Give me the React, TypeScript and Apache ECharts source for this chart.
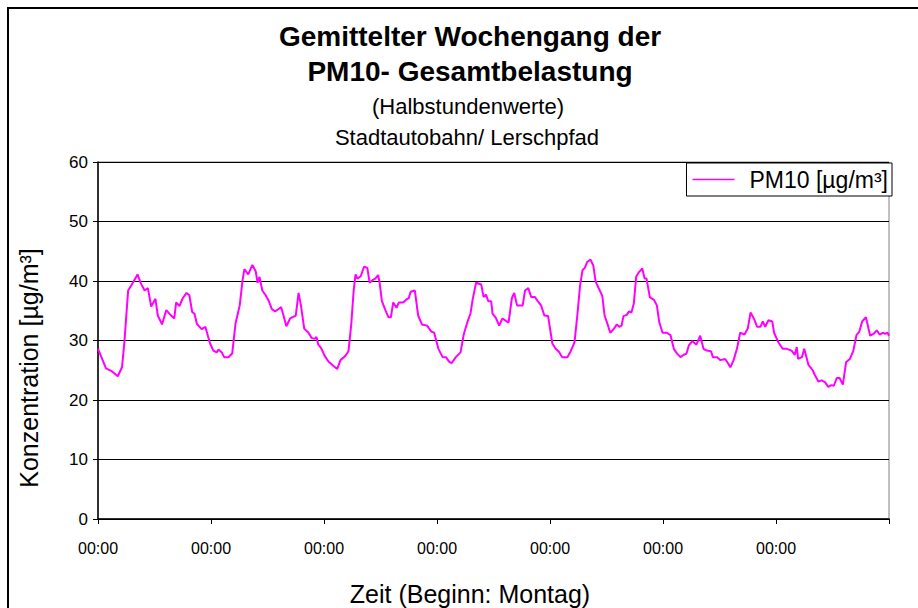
import React, { useEffect, useRef } from "react";
import * as echarts from "echarts";

const titleLines = ["Gemittelter Wochengang der", "PM10- Gesamtbelastung"];
const subtitleLines = ["(Halbstundenwerte)", "Stadtautobahn/ Lerschpfad"];
const seriesName = "PM10 [µg/m³]";
const yAxisName = "Konzentration [µg/m³]";
const xAxisName = "Zeit (Beginn: Montag)";
const xTickLabels = ["00:00", "00:00", "00:00", "00:00", "00:00", "00:00", "00:00", ""];

// hours since Monday 00:00
const hours = [
  0, 1.7, 3.0, 4.2, 5.1, 5.6, 6.4, 7.2, 8.4, 9.1, 9.9, 10.6, 11.3, 12.2, 12.7, 13.6, 14.5, 15.4, 16.2, 16.6, 17.3, 18.0, 18.8, 19.4, 20.0, 20.5, 21.0, 22.0, 22.8,
  23.8, 24.5, 25.2, 25.6, 26.3, 26.8, 27.7, 28.5, 29.2, 30.1, 30.7, 31.1, 31.9, 32.8, 33.5, 33.9, 34.3, 34.9, 35.6, 36.3, 36.9, 37.6, 38.2, 38.9, 39.4, 40.0, 40.8, 42.0, 42.6, 43.1, 43.8, 44.7, 45.4, 46.1, 46.4, 46.8,
  47.4, 48.1, 48.9, 49.9, 50.8, 51.5, 52.4, 53.2, 53.8, 54.3, 54.7, 55.1, 55.8, 56.5, 57.2, 57.7, 58.4, 58.9, 59.5, 59.8, 60.3, 61.0, 61.7, 62.2, 62.7, 63.4, 63.9, 64.8, 65.5, 66.0, 66.4, 67.3, 68.0, 68.8, 69.9, 70.8,
  71.4, 72.3, 73.2, 73.9, 74.6, 75.1, 76.0, 77.0, 77.7, 78.5, 79.1, 79.6, 80.3, 81.4, 81.9, 82.4, 82.9, 83.5, 83.8, 84.5, 85.2, 85.9, 87.2, 87.9, 88.4, 89.0, 90.2, 90.7, 91.4, 92.0, 92.8, 93.4, 94.1, 94.8, 95.6,
  96.5, 97.2, 97.9, 98.6, 99.7, 100.4, 101.2, 101.8, 102.4, 102.9, 103.4, 103.9, 104.6, 105.2, 105.7, 106.4, 107.1, 107.6, 108.2, 108.8, 109.5, 110.2, 110.7, 111.2, 111.6, 112.3, 112.8, 113.3, 113.8, 114.3, 114.9, 115.6, 116.1, 116.5, 117.2, 118.1, 118.7, 119.2, 119.9, 120.8,
  121.6, 122.3, 123.0, 123.7, 124.4, 125.0, 125.5, 126.2, 127.1, 127.9, 128.6, 129.3, 130.2, 130.6, 131.5, 132.2, 133.2, 133.7, 134.3, 135.0, 135.7, 136.4, 137.3, 138.0, 138.6, 139.3, 140.0, 140.7, 141.2, 141.7, 142.4, 143.2,
  143.6, 144.5, 145.4, 146.3, 147.3, 148.0, 148.4, 148.7, 149.5, 150.0, 150.9, 151.8, 152.3, 153.0, 153.7, 154.4, 155.1, 155.8, 156.3, 156.9, 157.5, 158.2, 158.9, 159.7, 160.4, 161.1, 161.7, 162.3, 163.1, 164.0, 164.7, 165.4, 166.0, 166.7, 167.2, 167.7, 168.0,
];

// PM10 concentration [µg/m³]
const pm10 = [
  28.6, 25.3, 24.8, 24.0, 25.5, 29.7, 38.4, 39.4, 41.1, 39.6, 38.4, 38.8, 35.7, 37.0, 34.2, 32.7, 35.1, 34.3, 33.7, 36.4, 35.8, 37.1, 38.0, 37.6, 34.8, 34.5, 32.8, 31.9, 32.3,
  29.5, 28.3, 28.0, 28.5, 28.0, 27.2, 27.2, 27.8, 32.8, 35.9, 40.1, 42.0, 41.1, 42.7, 41.6, 39.7, 40.7, 38.4, 37.6, 36.6, 35.3, 34.9, 35.2, 35.6, 34.2, 32.4, 33.7, 34.2, 38.0, 35.9, 32.0, 31.3, 30.4, 30.3, 30.6, 29.3,
  28.7, 27.5, 26.5, 25.8, 25.2, 26.7, 27.3, 28.2, 32.8, 38.4, 41.1, 40.4, 40.8, 42.4, 42.2, 39.7, 40.2, 40.4, 41.0, 39.8, 36.6, 35.2, 33.9, 33.9, 36.4, 35.5, 36.4, 36.4, 36.9, 37.1, 38.2, 38.4, 34.2, 32.7, 32.5, 31.5,
  31.3, 28.6, 27.2, 27.2, 26.4, 26.2, 27.2, 28.0, 31.1, 33.2, 34.5, 37.0, 39.7, 39.4, 37.3, 37.7, 36.6, 36.6, 34.5, 33.8, 32.5, 33.7, 33.0, 37.1, 38.0, 35.9, 35.9, 38.4, 38.8, 37.3, 37.3, 36.6, 35.9, 34.2, 34.1,
  29.5, 28.6, 28.1, 27.2, 27.2, 28.2, 29.7, 34.2, 39.3, 41.8, 42.2, 43.2, 43.6, 42.6, 39.9, 38.7, 37.5, 34.2, 32.8, 31.3, 31.9, 32.7, 32.3, 32.5, 34.1, 34.3, 34.9, 34.7, 36.2, 40.7, 41.5, 42.1, 40.4, 40.4, 37.3, 36.8, 35.9, 33.1, 31.3, 31.3,
  30.9, 28.6, 27.8, 27.2, 27.6, 27.8, 29.2, 29.9, 29.3, 30.8, 28.6, 28.3, 28.2, 27.2, 27.2, 26.7, 26.9, 26.3, 25.5, 26.7, 28.6, 31.3, 31.0, 32.0, 34.7, 33.7, 32.3, 32.3, 33.2, 32.3, 33.4, 33.2,
  31.3, 29.7, 28.6, 28.6, 28.3, 27.6, 28.9, 26.9, 27.2, 28.6, 25.9, 25.0, 24.1, 23.1, 23.3, 23.0, 22.2, 22.5, 22.4, 23.7, 23.7, 22.6, 26.4, 26.9, 28.2, 30.9, 31.5, 33.2, 33.9, 30.8, 31.1, 31.7, 31.0, 31.3, 31.1, 31.3, 30.8,
];

const FONT = "'Liberation Sans', Arial, sans-serif";

export default function App() {
  const ref = useRef<HTMLDivElement>(null);
  useEffect(() => {
    if (!ref.current) return;
    const chart = echarts.init(ref.current, undefined, { renderer: "svg" });
    const data = hours.map((h, i) => [h, pm10[i]]);
    const txt = (text: string, x: number, y: number, size: number, bold: boolean, rotation = 0) => ({
      type: "text",
      x,
      y,
      rotation,
      silent: true,
      style: {
        text,
        fill: "#000",
        font: `${bold ? "bold " : ""}${size}px ${FONT}`,
        textAlign: "center",
        textVerticalAlign: "middle",
      },
    });
    chart.setOption({
      animation: false,
      backgroundColor: "#ffffff",
      textStyle: { fontFamily: FONT, color: "#000" },
      legend: {
        data: [seriesName],
        right: 26,
        top: 163,
        orient: "vertical",
        backgroundColor: "#fff",
        borderColor: "#000",
        borderWidth: 1,
        borderRadius: 0,
        padding: [3, 4, 3, 6],
        icon: "rect",
        itemWidth: 42,
        itemHeight: 1.5,
        itemGap: 0,
        textStyle: { fontFamily: FONT, fontSize: 23, color: "#000", lineHeight: 27, padding: [0, 0, 0, 10] },
      },
      grid: {
        left: 98,
        right: 29,
        top: 162,
        bottom: 89,
        show: true,
        borderColor: "#808080",
        borderWidth: 1,
      },
      xAxis: {
        type: "value",
        min: 0,
        max: 168,
        interval: 24,
        axisLine: { show: true, lineStyle: { color: "#000", width: 1.5 } },
        axisTick: { show: true, inside: false, length: 5, lineStyle: { color: "#000" } },
        axisLabel: {
          fontFamily: FONT,
          fontSize: 16,
          color: "#000",
          margin: 21,
          formatter: (v: number) => xTickLabels[Math.round(v / 24)] ?? "",
        },
        splitLine: { show: false },
      },
      yAxis: {
        type: "value",
        min: 0,
        max: 60,
        interval: 10,
        axisLine: { show: true, lineStyle: { color: "#000", width: 1.5 } },
        axisTick: { show: true, inside: false, length: 5, lineStyle: { color: "#000" } },
        axisLabel: { fontFamily: FONT, fontSize: 17, color: "#000", margin: 10 },
        splitLine: { show: true, lineStyle: { color: "#000", width: 1 } },
      },
      graphic: [
        {
          type: "rect",
          shape: { x: 8, y: 8, width: 1000, height: 1000 },
          style: { fill: "none", stroke: "#000", lineWidth: 2 },
          z: 100,
          silent: true,
        },
        txt(titleLines[0], 470, 36, 28, true),
        txt(titleLines[1], 470, 71, 28, true),
        txt(subtitleLines[0], 468, 106, 22, false),
        txt(subtitleLines[1], 467, 137, 22, false),
        txt(xAxisName, 470, 594, 25, false),
        txt(yAxisName, 29, 368, 25, false, Math.PI / 2),
      ],
      series: [
        {
          name: seriesName,
          type: "line",
          data,
          symbol: "none",
          lineStyle: { color: "#ff00ff", width: 2 },
          itemStyle: { color: "#ff00ff" },
        },
      ],
    });
    return () => chart.dispose();
  }, []);
  return (
    <div
      ref={ref}
      style={{ position: "absolute", left: 0, top: 0, width: 918, height: 608, background: "#fff" }}
    />
  );
}
